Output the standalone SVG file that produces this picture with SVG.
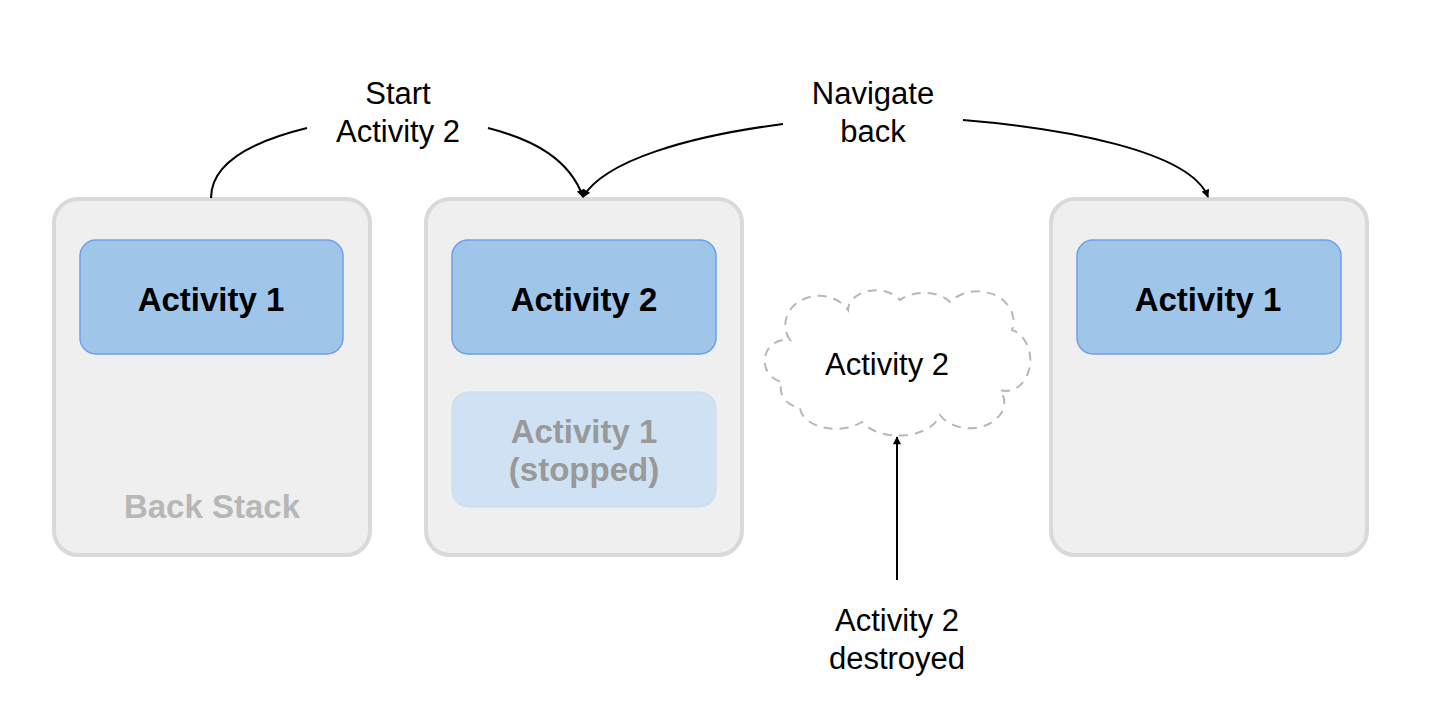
<svg xmlns="http://www.w3.org/2000/svg" width="1432" height="720" viewBox="0 0 1432 720">
<style>
.stack{fill:#efefef;stroke:#d9d9d9;stroke-width:4}
.act{fill:#9fc5e8;stroke:#6d9eeb;stroke-width:1.5}
.stop{fill:#cfe2f3;stroke:#c9dcf0;stroke-width:1}
.t{font-family:"Liberation Sans",Arial,sans-serif;font-size:31px;fill:#000;text-anchor:middle}
.b{font-family:"Liberation Sans",Arial,sans-serif;font-size:33px;font-weight:bold;fill:#000;text-anchor:middle}
.g{fill:#999999}
.bs{fill:#b7b7b7;font-size:33px}
.c{fill:none;stroke:#000;stroke-width:2}
.cloud{fill:#fff;stroke:#b7b7b7;stroke-width:2;stroke-dasharray:9 7}
</style>
<defs>
<marker id="ah" viewBox="0 0 10 10" refX="9" refY="5" markerWidth="9" markerHeight="8" markerUnits="userSpaceOnUse" orient="auto">
<path d="M0 0 L10 5 L0 10 z" fill="#000"/>
</marker>
</defs>
<rect width="1432" height="720" fill="#fff"/>
<g id="stack1">
<rect class="stack" x="54" y="199" width="316" height="356" rx="24"/>
<rect class="act" x="80" y="240" width="263" height="114" rx="16"/>
<text class="b" x="211" y="311">Activity 1</text>
<text class="b bs" x="212" y="518">Back Stack</text>
</g>
<g id="stack2">
<rect class="stack" x="426" y="199" width="316" height="356" rx="24"/>
<rect class="act" x="452" y="240" width="264" height="114" rx="16"/>
<text class="b" x="584" y="311">Activity 2</text>
<rect class="stop" x="452" y="392" width="264" height="115" rx="16"/>
<text class="b g" x="584" y="443">Activity 1</text>
<text class="b g" x="584" y="481">(stopped)</text>
</g>
<g id="stack3">
<rect class="stack" x="1051" y="199" width="316" height="356" rx="24"/>
<rect class="act" x="1077" y="240" width="264" height="114" rx="16"/>
<text class="b" x="1208" y="311">Activity 1</text>
</g>
<g id="cloud">
<path class="cloud" d="M790 340 A30 26 0 0 1 848 310 A28 20 0 0 1 900 300 A30 18 0 0 1 950 302 A36 30 0 0 1 1012 330 A22 28 0 0 1 1000 390 A32 24 0 0 1 940 415 A42 26 0 0 1 862 422 A36 22 0 0 1 800 408 A24 20 0 0 1 782 382 A20 20 0 0 1 790 340 Z"/>
<text class="t" x="887" y="375">Activity 2</text>
</g>
<g id="labels">
<text class="t" x="398" y="104">Start</text>
<text class="t" x="398" y="142">Activity 2</text>
<text class="t" x="873" y="104">Navigate</text>
<text class="t" x="873" y="142">back</text>
<text class="t" x="897" y="631">Activity 2</text>
<text class="t" x="897" y="669">destroyed</text>
</g>
<g id="connectors">
<path class="c" d="M211 198 C211 160 258 140 307 128"/>
<path class="c" d="M488 128 C535 140 570 160 583 197" marker-end="url(#ah)"/>
<path class="c" d="M783 124 C690 136 605 160 583 197" marker-end="url(#ah)"/>
<path class="c" d="M963 120 C1060 128 1190 150 1208 197" marker-end="url(#ah)"/>
<path class="c" d="M897 580 L897 437" marker-end="url(#ah)"/>
</g>
</svg>
